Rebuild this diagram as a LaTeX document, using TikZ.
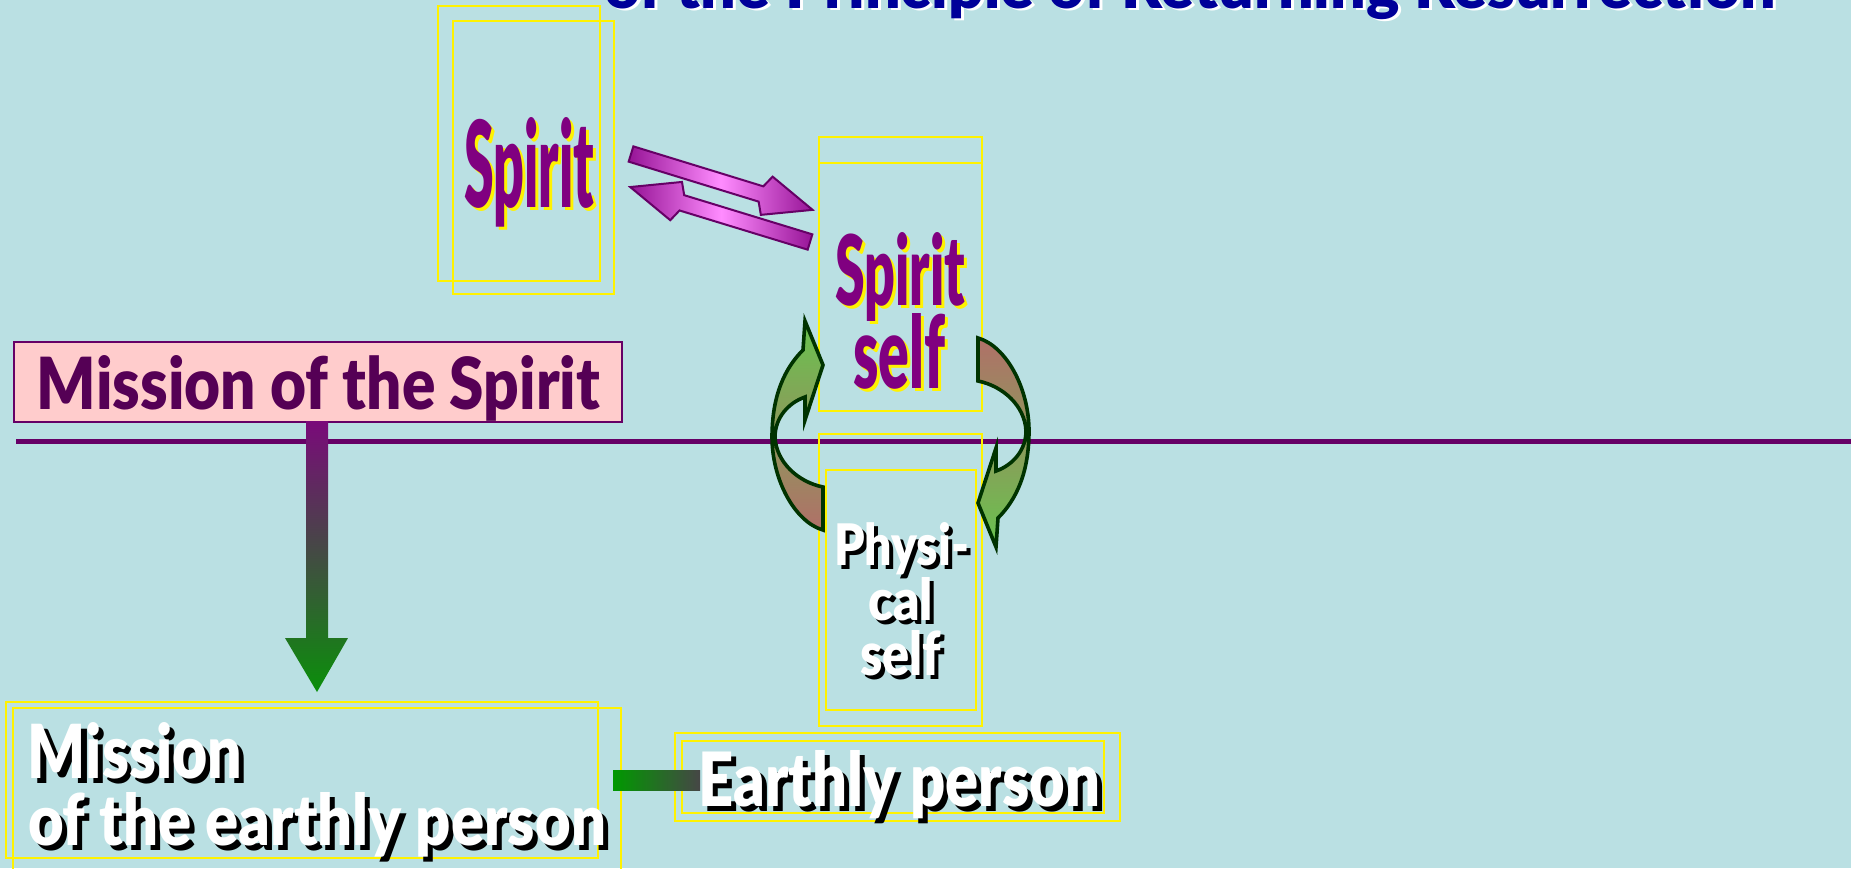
\documentclass[tikz,border=0pt]{standalone}
\usepackage{fontspec}
\usepackage{graphicx}
\IfFontExistsTF{Lato Black}{\newfontfamily\titf{Lato Black}}{\newfontfamily\titf{Liberation Sans}}
\IfFontExistsTF{Lato Black}{\newfontfamily\impf{Lato Black}}{\newfontfamily\impf{Liberation Sans}}
\newcommand\imp{\impf}
\definecolor{bg}{RGB}{186,224,227}
\definecolor{tblue}{RGB}{0,0,153}
\definecolor{spur}{RGB}{128,0,128}
\definecolor{mtext}{RGB}{85,0,85}
\definecolor{mborder}{RGB}{102,0,102}
\definecolor{pinkbox}{RGB}{255,204,204}
\definecolor{hpurp}{RGB}{102,0,102}
\definecolor{dpurp}{RGB}{122,10,122}
\definecolor{dgreen}{RGB}{10,143,10}
\definecolor{cgreen}{RGB}{0,153,0}
\definecolor{cgray}{RGB}{70,70,70}
\definecolor{agreen}{RGB}{104,196,78}
\definecolor{amid}{RGB}{128,140,90}
\definecolor{abrown}{RGB}{176,112,104}
\definecolor{adark}{RGB}{0,51,0}
\definecolor{mdark}{RGB}{150,20,150}
\definecolor{mlight}{RGB}{255,140,255}
\definecolor{mout}{RGB}{102,0,102}
\newlength\pxu \setlength\pxu{0.5pt}
\newcommand\shtext[6]{%
  \rlap{\kern#5\pxu\raisebox{-#5\pxu}{\textcolor{#4}{\resizebox{#1}{#2}{\imp #6}}}}%
  \textcolor{#3}{\resizebox{#1}{#2}{\imp #6}}}
\tikzset{
  ybox/.style={draw=yellow, line width=0.75pt},
  txt/.style={anchor=base west, inner sep=0pt, outer sep=0pt},
  carrow/.style={draw=adark, line width=1.8pt, line join=miter},
  marrow/.style={draw=mout, line width=1pt, line join=miter},
  hline/.style={draw=hpurp, line width=2.8pt},
  mbox/.style={draw=mborder, fill=pinkbox, line width=1pt}
}
\begin{document}
\begin{tikzpicture}[x=0.5pt, y=-0.5pt]
\fill[bg] (0,0) rectangle (1851,868);
\useasboundingbox (0,0) rectangle (1851,868);

% horizontal line
\coordinate (hl1) at (16,441.5);
\coordinate (hl2) at (1851,441.5);
\draw[hline] (hl1) -- (hl2);

% yellow frames
\draw[ybox] (438,6) rectangle (600,281);
\draw[ybox] (453,21) rectangle (614,294);
\draw[ybox] (819,137) rectangle (982,411);
\draw[ybox] (819,163) -- (982,163);
\draw[ybox] (819,434) rectangle (982,726);
\draw[ybox] (826,470) rectangle (976,710);
\draw[ybox] (6,702) rectangle (598,858);
\draw[ybox] (13,708) rectangle (621,880);
\draw[ybox] (675,733) rectangle (1120,821);
\draw[ybox] (682,741) rectangle (1104,813);

% Mission of the Spirit box
\node[mbox, anchor=north west, minimum width=304pt, minimum height=40pt, inner sep=0pt] (mbx) at (13,341) {};

% down arrow
\shade[top color=dpurp, bottom color=dgreen]
  (306,421) -- (328,421) -- (328,638) -- (348,638) -- (317,692) -- (285,638) -- (306,638) -- cycle;

% magenta double arrows
\begin{scope}[shift={(631,154)}, rotate=-17.1]
\shade[marrow, left color=mdark, right color=mdark, middle color=mlight]
  (0,-8) -- (136,-8) -- (142,-20) -- (190,0) -- (142,20) -- (136,8) -- (0,8) -- cycle;
\end{scope}
\begin{scope}[shift={(810,242)}, rotate=163]
\shade[marrow, left color=mdark, right color=mdark, middle color=mlight]
  (0,-8) -- (134,-8) -- (140,-20) -- (188,0) -- (140,20) -- (134,8) -- (0,8) -- cycle;
\end{scope}

% curved arrows
\shade[carrow, top color=agreen, middle color=amid, bottom color=abrown]
  (803,350) .. controls (785,368) and (772,395) .. (772,437)
  .. controls (772,480) and (795,522) .. (823,530)
  -- (823,487)
  .. controls (798,482) and (776,462) .. (775,437)
  .. controls (775,418) and (788,403) .. (805,397)
  -- (805,420) -- (823,365) -- (805,321) -- cycle;
\shade[carrow, top color=abrown, middle color=amid, bottom color=agreen]
  (998,518) .. controls (1016,500) and (1029,473) .. (1029,431)
  .. controls (1029,388) and (1006,346) .. (978,338)
  -- (978,381)
  .. controls (1003,386) and (1025,406) .. (1026,431)
  .. controls (1026,450) and (1013,465) .. (996,471)
  -- (996,448) -- (978,503) -- (996,547) -- cycle;

% green connector
\shade[left color=cgreen, right color=cgray] (613,770) rectangle (700,790);

% texts
\node[txt] (title) at (604,8) {\rlap{\kern3\pxu\raisebox{-3\pxu}{\textcolor{white}{\resizebox{1172\pxu}{!}{\titf of the Principle of Returning Resurrection}}}}\textcolor{tblue}{\resizebox{1172\pxu}{!}{\titf of the Principle of Returning Resurrection}}};
\node[txt] (spirit) at (464,207) {\shtext{130\pxu}{90\pxu}{spur}{yellow}{3}{Spirit}};
\node[txt] (ss1) at (835,305) {\shtext{130\pxu}{73\pxu}{spur}{yellow}{3}{Spirit}};
\node[txt] (ss2) at (853,388) {\shtext{92\pxu}{75\pxu}{spur}{yellow}{3}{self}};
\node[txt] (ps1) at (834,565) {\shtext{135\pxu}{43\pxu}{white}{black}{4}{Physi-}};
\node[txt] (ps2) at (868,620) {\shtext{65\pxu}{43\pxu}{white}{black}{4}{cal}};
\node[txt] (ps3) at (860,675) {\shtext{81\pxu}{45\pxu}{white}{black}{4}{self}};
\node[txt] (msp) at (37,409) {\textcolor{mtext}{\resizebox{563\pxu}{54\pxu}{\imp Mission of the Spirit}}};
\node[txt] (me1) at (28,778) {\shtext{214\pxu}{56\pxu}{white}{black}{5}{Mission}};
\node[txt] (me2) at (28,845) {\shtext{578\pxu}{53\pxu}{white}{black}{5}{of the earthly person}};
\node[txt] (ep) at (698,806) {\shtext{402\pxu}{56\pxu}{white}{black}{5}{Earthly person}};
\end{tikzpicture}
\end{document}
